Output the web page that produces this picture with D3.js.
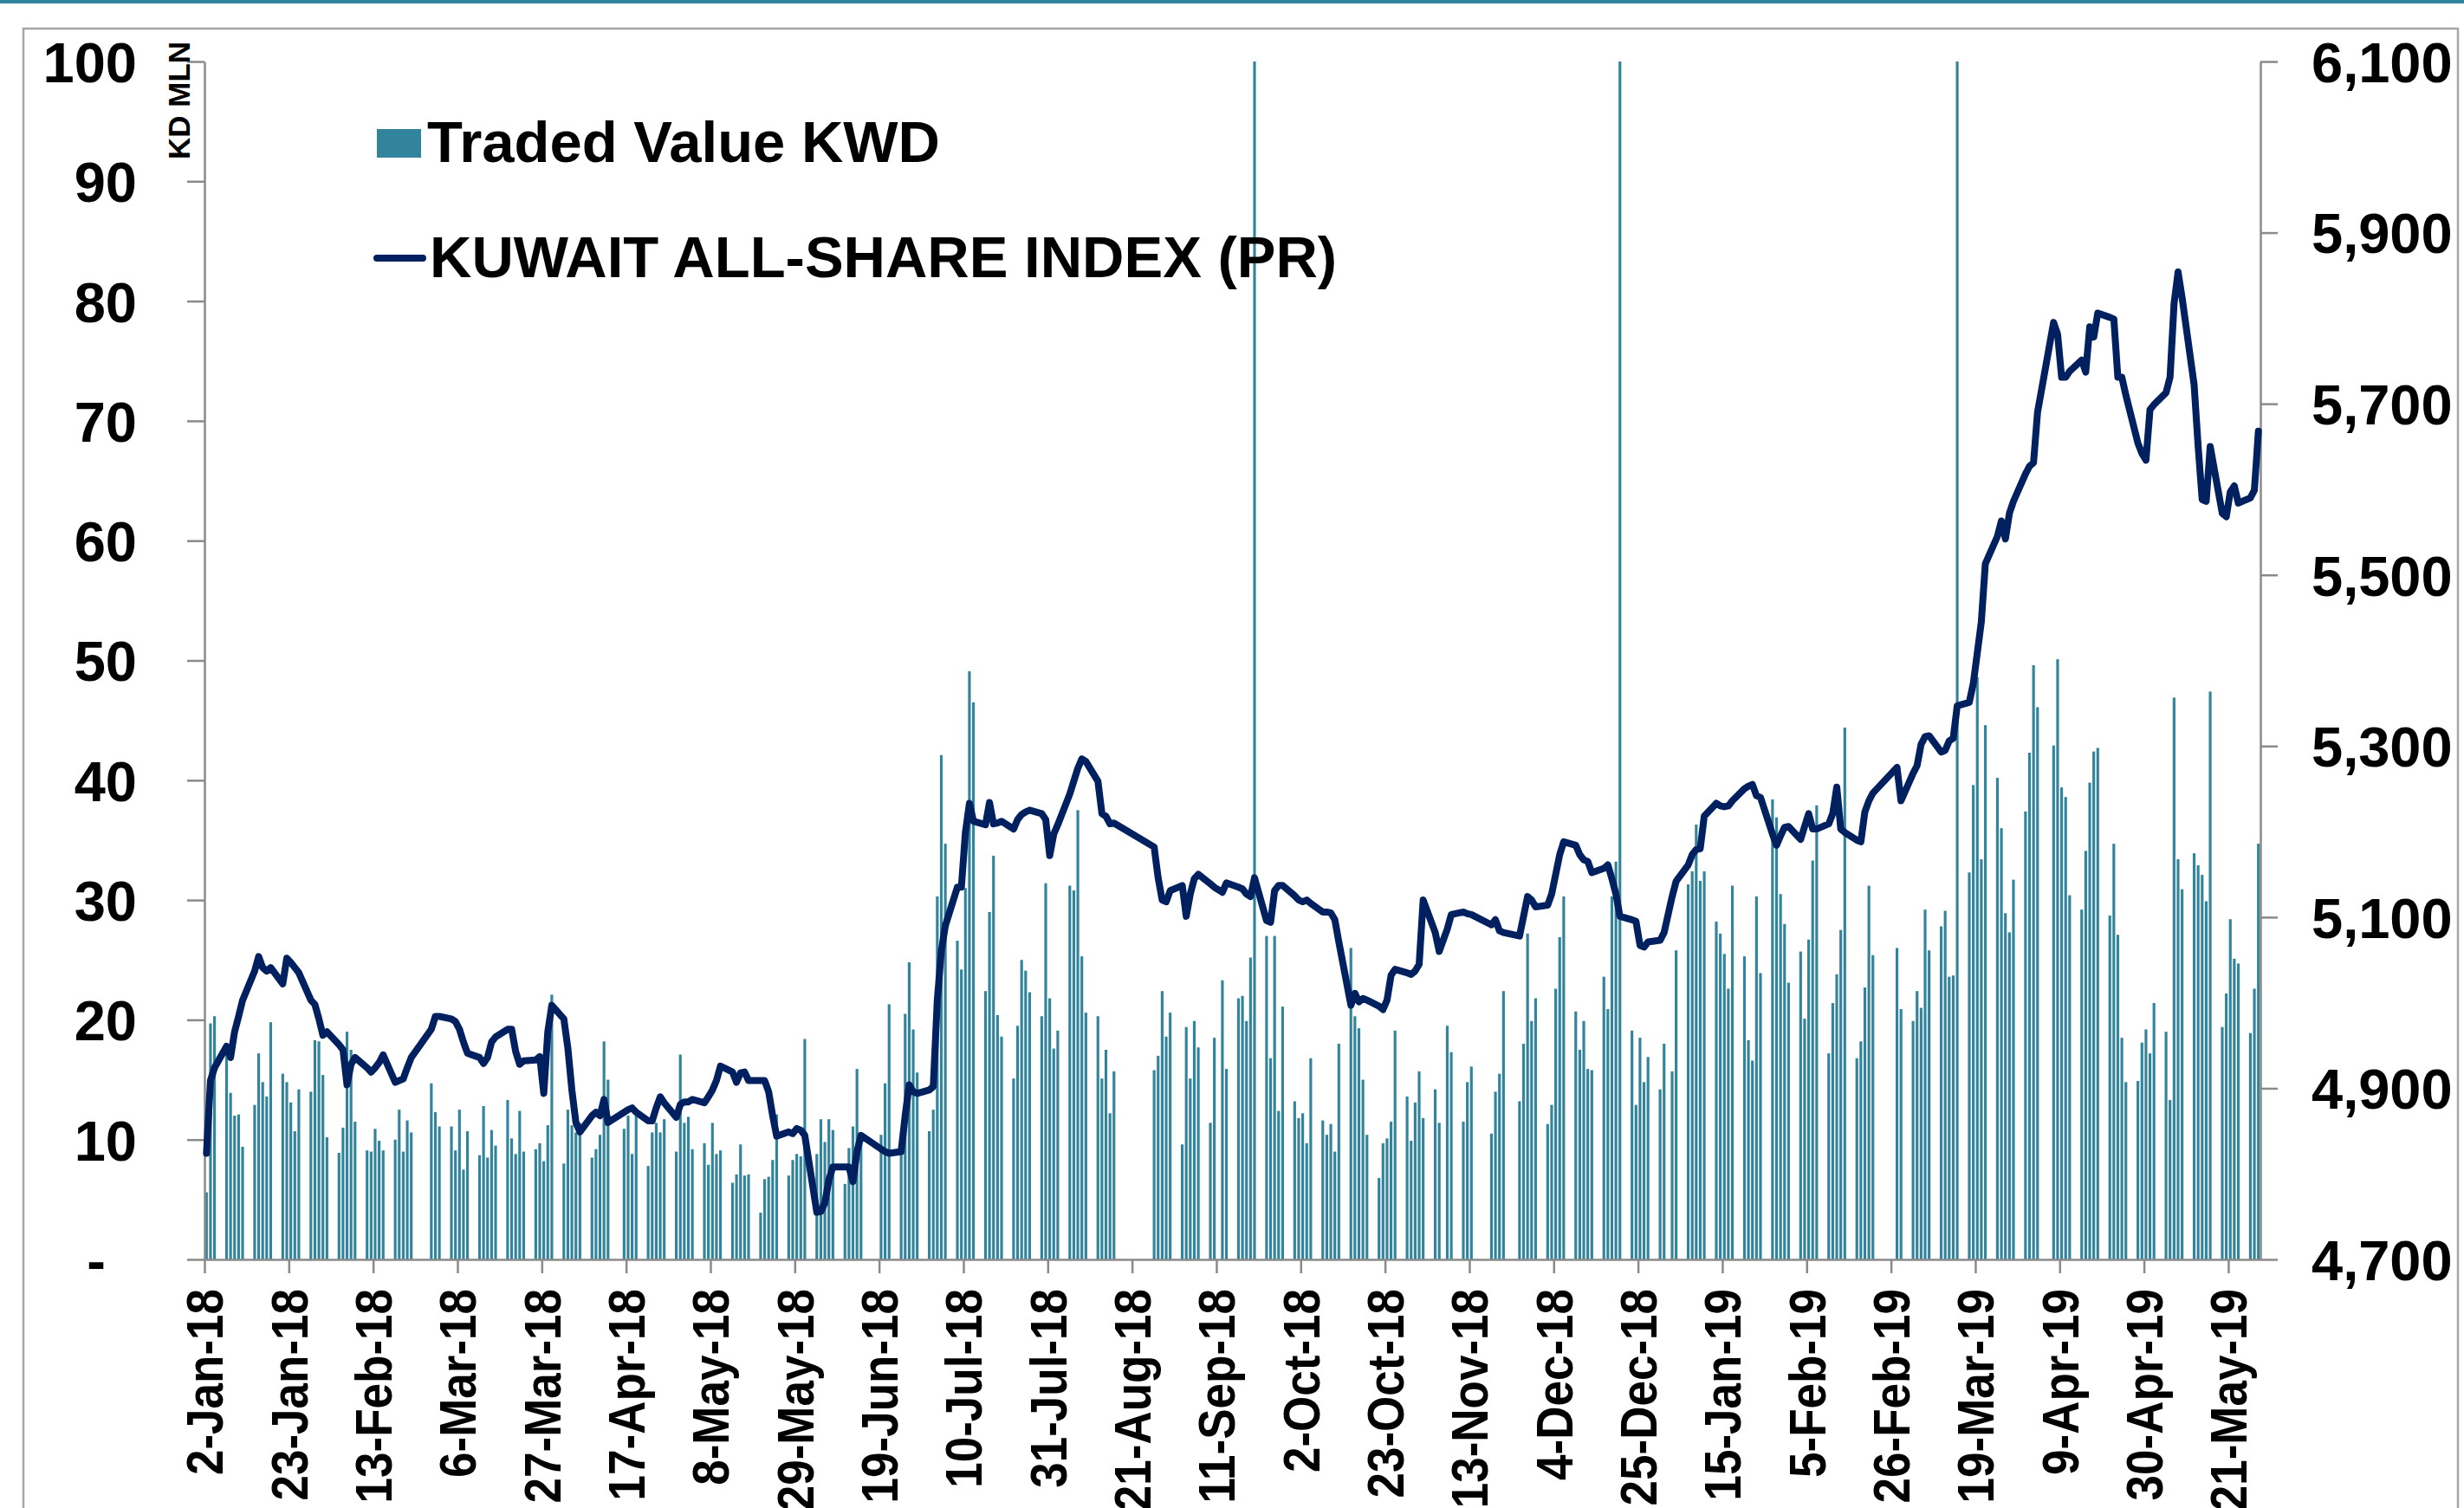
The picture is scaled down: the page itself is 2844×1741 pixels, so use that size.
<!DOCTYPE html>
<html>
<head>
<meta charset="utf-8">
<script src="https://cdn.jsdelivr.net/npm/d3@7"></script>
<style>
html, body { margin: 0; padding: 0; background: #fff; }
svg { display: block; }
text { font-family: "Liberation Sans", Arial, sans-serif; font-weight: bold; fill: #000; }
</style>
</head>
<body>
<div id="chart"></div>
<script>
// trading days (Sun-Thu), one line per week
var tradingDays = [
	"2018-01-02","2018-01-03","2018-01-04",
	"2018-01-07","2018-01-08","2018-01-09","2018-01-10","2018-01-11",
	"2018-01-14","2018-01-15","2018-01-16","2018-01-17","2018-01-18",
	"2018-01-21","2018-01-22","2018-01-23","2018-01-24","2018-01-25",
	"2018-01-28","2018-01-29","2018-01-30","2018-01-31","2018-02-01",
	"2018-02-04","2018-02-05","2018-02-06","2018-02-07","2018-02-08",
	"2018-02-11","2018-02-12","2018-02-13","2018-02-14","2018-02-15",
	"2018-02-18","2018-02-19","2018-02-20","2018-02-21","2018-02-22",
	"2018-02-27","2018-02-28","2018-03-01",
	"2018-03-04","2018-03-05","2018-03-06","2018-03-07","2018-03-08",
	"2018-03-11","2018-03-12","2018-03-13","2018-03-14","2018-03-15",
	"2018-03-18","2018-03-19","2018-03-20","2018-03-21","2018-03-22",
	"2018-03-25","2018-03-26","2018-03-27","2018-03-28","2018-03-29",
	"2018-04-01","2018-04-02","2018-04-03","2018-04-04","2018-04-05",
	"2018-04-08","2018-04-09","2018-04-10","2018-04-11","2018-04-12",
	"2018-04-16","2018-04-17","2018-04-18","2018-04-19",
	"2018-04-22","2018-04-23","2018-04-24","2018-04-25","2018-04-26",
	"2018-04-29","2018-04-30","2018-05-01","2018-05-02","2018-05-03",
	"2018-05-06","2018-05-07","2018-05-08","2018-05-09","2018-05-10",
	"2018-05-13","2018-05-14","2018-05-15","2018-05-16","2018-05-17",
	"2018-05-20","2018-05-21","2018-05-22","2018-05-23","2018-05-24",
	"2018-05-27","2018-05-28","2018-05-29","2018-05-30","2018-05-31",
	"2018-06-03","2018-06-04","2018-06-05","2018-06-06","2018-06-07",
	"2018-06-10","2018-06-11","2018-06-12","2018-06-13","2018-06-14",
	"2018-06-19","2018-06-20","2018-06-21",
	"2018-06-24","2018-06-25","2018-06-26","2018-06-27","2018-06-28",
	"2018-07-01","2018-07-02","2018-07-03","2018-07-04","2018-07-05",
	"2018-07-08","2018-07-09","2018-07-10","2018-07-11","2018-07-12",
	"2018-07-15","2018-07-16","2018-07-17","2018-07-18","2018-07-19",
	"2018-07-22","2018-07-23","2018-07-24","2018-07-25","2018-07-26",
	"2018-07-29","2018-07-30","2018-07-31","2018-08-01","2018-08-02",
	"2018-08-05","2018-08-06","2018-08-07","2018-08-08","2018-08-09",
	"2018-08-12","2018-08-13","2018-08-14","2018-08-15","2018-08-16",
	"2018-08-26","2018-08-27","2018-08-28","2018-08-29","2018-08-30",
	"2018-09-02","2018-09-03","2018-09-04","2018-09-05","2018-09-06",
	"2018-09-09","2018-09-10","2018-09-12","2018-09-13",
	"2018-09-16","2018-09-17","2018-09-18","2018-09-19","2018-09-20",
	"2018-09-23","2018-09-24","2018-09-25","2018-09-26","2018-09-27",
	"2018-09-30","2018-10-01","2018-10-02","2018-10-03","2018-10-04",
	"2018-10-07","2018-10-08","2018-10-09","2018-10-10","2018-10-11",
	"2018-10-14","2018-10-15","2018-10-16","2018-10-17","2018-10-18",
	"2018-10-21","2018-10-22","2018-10-23","2018-10-24","2018-10-25",
	"2018-10-28","2018-10-29","2018-10-30","2018-10-31","2018-11-01",
	"2018-11-04","2018-11-05","2018-11-07","2018-11-08",
	"2018-11-11","2018-11-12","2018-11-13",
	"2018-11-18","2018-11-19","2018-11-20","2018-11-21",
	"2018-11-25","2018-11-26","2018-11-27","2018-11-28","2018-11-29",
	"2018-12-02","2018-12-03","2018-12-04","2018-12-05","2018-12-06",
	"2018-12-09","2018-12-10","2018-12-11","2018-12-12","2018-12-13",
	"2018-12-16","2018-12-17","2018-12-18","2018-12-19","2018-12-20",
	"2018-12-23","2018-12-24","2018-12-25","2018-12-26","2018-12-27",
	"2018-12-30","2018-12-31","2019-01-02","2019-01-03",
	"2019-01-06","2019-01-07","2019-01-08","2019-01-09","2019-01-10",
	"2019-01-13","2019-01-14","2019-01-15","2019-01-16","2019-01-17",
	"2019-01-20","2019-01-21","2019-01-22","2019-01-23","2019-01-24",
	"2019-01-27","2019-01-28","2019-01-29","2019-01-30","2019-01-31",
	"2019-02-03","2019-02-04","2019-02-05","2019-02-06","2019-02-07",
	"2019-02-10","2019-02-11","2019-02-12","2019-02-13","2019-02-14",
	"2019-02-17","2019-02-18","2019-02-19","2019-02-20","2019-02-21",
	"2019-02-27","2019-02-28",
	"2019-03-03","2019-03-04","2019-03-05","2019-03-06","2019-03-07",
	"2019-03-10","2019-03-11","2019-03-12","2019-03-13","2019-03-14",
	"2019-03-17","2019-03-18","2019-03-19","2019-03-20","2019-03-21",
	"2019-03-24","2019-03-25","2019-03-26","2019-03-27","2019-03-28",
	"2019-03-31","2019-04-01","2019-04-02","2019-04-03",
	"2019-04-07","2019-04-08","2019-04-09","2019-04-10","2019-04-11",
	"2019-04-14","2019-04-15","2019-04-16","2019-04-17","2019-04-18",
	"2019-04-21","2019-04-22","2019-04-23","2019-04-24","2019-04-25",
	"2019-04-28","2019-04-29","2019-04-30","2019-05-01","2019-05-02",
	"2019-05-05","2019-05-06","2019-05-07","2019-05-08","2019-05-09",
	"2019-05-12","2019-05-13","2019-05-14","2019-05-15","2019-05-16",
	"2019-05-19","2019-05-20","2019-05-21","2019-05-22","2019-05-23",
	"2019-05-26","2019-05-27","2019-05-28"
];

// traded value, KD mln (the three spikes run past the 100 ceiling)
var tradedValue = [
	5.6, 19.7, 20.3,
	17.3, 13.9, 12.0, 12.1, 9.4,
	12.9, 17.2, 14.8, 13.6, 19.8,
	15.5, 14.8, 13.1, 10.7, 14.2,
	14.0, 18.3, 18.2, 15.4, 10.2,
	8.9, 11.0, 19.0, 17.5, 11.5,
	9.1, 9.0, 10.9, 9.9, 9.1,
	10.0, 12.5, 9.0, 11.6, 10.6,
	14.7, 12.3, 11.1,
	11.1, 9.1, 12.5, 7.5, 10.7,
	8.7, 12.8, 8.5, 10.8, 9.5,
	13.3, 10.1, 8.8, 12.4, 9.0,
	9.2, 9.7, 8.2, 11.2, 22.1,
	8.0, 12.5, 11.2, 10.6, 11.4,
	8.5, 9.2, 10.4, 18.2, 15.0,
	10.9, 12.0, 8.8, 12.0,
	7.8, 10.6, 11.4, 10.6, 11.7,
	9.0, 17.1, 11.4, 11.9, 9.2,
	9.7, 7.9, 11.4, 8.8, 9.1,
	6.4, 7.1, 9.6, 7.0, 7.1,
	3.9, 6.7, 6.9, 8.3, 12.1,
	7.0, 8.3, 8.8, 8.6, 18.4,
	8.8, 11.7, 9.8, 11.7, 10.8,
	6.3, 9.3, 11.1, 15.9, 10.4,
	10.4, 14.7, 21.3,
	10.0, 20.5, 24.8, 19.2, 15.6,
	10.7, 12.5, 30.3, 42.1, 34.7,
	26.6, 24.2, 31.0, 49.1, 46.5,
	22.4, 29.0, 33.7, 20.4, 18.6,
	15.1, 19.5, 25.0, 24.1, 22.3,
	20.3, 31.4, 21.8, 17.6, 19.1,
	31.2, 30.8, 37.5, 25.3, 20.6,
	20.3, 15.1, 17.5, 12.2, 15.7,
	15.8, 17.0, 22.4, 18.6, 20.6,
	9.6, 19.4, 15.1, 19.9, 17.7,
	11.4, 18.5, 23.3, 15.9,
	21.8, 22.0, 19.9, 25.2, 125,
	27.0, 16.8, 27.0, 12.4, 21.1,
	13.2, 11.8, 12.2, 9.7, 16.8,
	11.6, 10.4, 11.3, 9.0, 18.0,
	26.0, 20.3, 19.3, 15.0, 10.4,
	6.8, 9.7, 10.1, 11.5, 19.1,
	13.6, 9.9, 13.1, 15.7, 11.8,
	14.2, 11.4, 19.5, 17.3,
	11.5, 14.8, 16.1,
	10.5, 14.0, 15.5, 22.4,
	13.2, 18.0, 27.2, 19.9, 21.8,
	11.3, 12.9, 22.6, 26.9, 30.3,
	20.7, 17.5, 19.9, 15.9, 15.8,
	23.6, 20.9, 30.3, 33.2, 130,
	19.1, 12.9, 18.5, 14.8, 16.9,
	14.2, 18.0, 15.7, 25.8,
	31.3, 32.4, 36.3, 31.6, 32.4,
	28.2, 27.2, 25.5, 22.6, 31.2,
	25.3, 18.3, 16.6, 30.3, 23.9,
	38.4, 36.9, 30.5, 28.0, 23.1,
	25.7, 20.1, 26.7, 33.3, 37.9,
	17.2, 21.4, 23.8, 27.5, 44.4,
	16.8, 18.2, 22.7, 31.2, 25.4,
	26.0, 20.9,
	19.9, 22.4, 21.0, 29.2, 25.8,
	27.8, 29.1, 23.6, 23.7, 140,
	32.3, 39.6, 48.6, 33.4, 44.6,
	40.2, 36.0, 28.9, 27.3, 31.7,
	37.4, 42.3, 49.6, 46.1,
	42.9, 50.1, 39.4, 38.6, 30.4,
	29.2, 34.1, 39.8, 42.4, 42.7,
	28.7, 34.7, 27.1, 18.5, 14.8,
	14.9, 18.1, 19.2, 17.2, 21.4,
	19.0, 13.3, 46.9, 33.4, 30.9,
	33.9, 32.9, 32.1, 29.9, 47.4,
	19.4, 22.2, 28.4, 25.1, 24.7,
	18.9, 22.6, 34.7
];

// Kuwait All-Share Index (PR), closing level
var indexValue = [
	4824, 4909, 4924,
	4949, 4936, 4966, 4984, 5003,
	5037, 5054, 5041, 5037, 5041,
	5022, 5052, 5047, 5041, 5035,
	5003, 4998, 4981, 4962, 4966,
	4951, 4945, 4904, 4928, 4936,
	4924, 4919, 4924, 4930, 4939,
	4907, 4909, 4911, 4924, 4936,
	4969, 4984, 4984,
	4981, 4978, 4969, 4954, 4941,
	4936, 4929, 4936, 4954, 4960,
	4969, 4969, 4943, 4928, 4932,
	4933, 4937, 4894, 4966, 4997,
	4981, 4947, 4898, 4860, 4849,
	4868, 4872, 4868, 4887, 4860,
	4872, 4875, 4877, 4872,
	4862, 4862, 4877, 4890, 4883,
	4866, 4881, 4884, 4884, 4887,
	4883, 4890, 4898, 4909, 4926,
	4919, 4907, 4918, 4919, 4909,
	4909, 4909, 4896, 4868, 4844,
	4849, 4847, 4853, 4851, 4845,
	4755, 4756, 4766, 4793, 4808,
	4808, 4808, 4791, 4826, 4845,
	4829, 4826, 4824,
	4826, 4868, 4904, 4896, 4894,
	4898, 4902, 5003, 5060, 5090,
	5135, 5135, 5199, 5233, 5212,
	5208, 5234, 5209, 5210, 5212,
	5203, 5214, 5220, 5223, 5225,
	5221, 5214, 5172, 5197, 5208,
	5244, 5259, 5274, 5285, 5282,
	5259, 5221, 5218, 5209, 5210,
	5182, 5146, 5120, 5118, 5131,
	5137, 5101, 5127, 5145, 5150,
	5139, 5135, 5129, 5140,
	5135, 5133, 5127, 5124, 5146,
	5096, 5094, 5131, 5137, 5137,
	5125, 5120, 5118, 5120, 5116,
	5106, 5106, 5105, 5097, 5071,
	4997, 5011, 5001, 5005, 5003,
	4996, 4992, 5003, 5032, 5039,
	5035, 5033, 5037, 5045, 5120,
	5082, 5060, 5086, 5103,
	5106, 5104, 5103,
	5091, 5097, 5084, 5082,
	5078, 5101, 5124, 5120, 5112,
	5114, 5127, 5150, 5173, 5188,
	5184, 5173, 5167, 5165, 5152,
	5157, 5161, 5145, 5127, 5101,
	5097, 5095, 5067, 5065, 5071,
	5073, 5082, 5124, 5142,
	5161, 5173, 5179, 5180, 5218,
	5233, 5230, 5229, 5230, 5236,
	5250, 5253, 5255, 5242, 5240,
	5197, 5184, 5195, 5205, 5206,
	5191, 5206, 5221, 5203, 5203,
	5209, 5221, 5252, 5203, 5199,
	5190, 5188, 5223, 5236, 5245,
	5275, 5236,
	5268, 5277, 5302, 5311, 5312,
	5293, 5295, 5306, 5309, 5347,
	5351, 5373, 5409, 5445, 5513,
	5545, 5563, 5542, 5572, 5586,
	5618, 5627, 5631, 5690,
	5795, 5781, 5731, 5731, 5738,
	5751, 5737, 5790, 5778, 5806,
	5801, 5799, 5731, 5731, 5710,
	5654, 5642, 5634, 5693, 5699,
	5713, 5731, 5817, 5854, 5824,
	5722, 5650, 5588, 5586, 5650,
	5572, 5568, 5597, 5604, 5584,
	5590, 5599, 5668
];

var dateTickLabels = ["2-Jan-18", "23-Jan-18", "13-Feb-18", "6-Mar-18", "27-Mar-18", "17-Apr-18",
	"8-May-18", "29-May-18", "19-Jun-18", "10-Jul-18", "31-Jul-18", "21-Aug-18", "11-Sep-18",
	"2-Oct-18", "23-Oct-18", "13-Nov-18", "4-Dec-18", "25-Dec-18", "15-Jan-19", "5-Feb-19",
	"26-Feb-19", "19-Mar-19", "9-Apr-19", "30-Apr-19", "21-May-19"];
var valueTicks = [0, 10, 20, 30, 40, 50, 60, 70, 80, 90, 100];
var indexTicks = [4700, 4900, 5100, 5300, 5500, 5700, 5900, 6100];
var seriesNames = ["Traded Value KWD", "KUWAIT ALL-SHARE INDEX (PR)"];
var valueAxisTitle = "KD MLN";

var colors = {
	bar: '#31849b',
	line: '#002060',
	axis: '#8a8a8a',
	frame: '#a6a6a6'
};

var width = 2844;
var height = 1741;
var plot = { left: 236, right: 2609, top: 71, bottom: 1454 };

if (tradingDays.length !== tradedValue.length || tradingDays.length !== indexValue.length) {
	console.error('length mismatch', tradingDays.length, tradedValue.length, indexValue.length);
}

var parseDay = d3.utcParse('%Y-%m-%d');
var parseTick = d3.utcParse('%d-%b-%y');

var data = tradingDays.map(function(d, i) {
	return { date: parseDay(d), value: tradedValue[i], index: indexValue[i] };
});

var svg = d3.select('#chart')
	.append('svg')
	.attr('width', width)
	.attr('height', height);

// band along the top edge and the outer frame
svg.append('rect')
	.attr('x', 0).attr('y', 0)
	.attr('width', width).attr('height', 4)
	.attr('fill', colors.bar);

svg.append('rect')
	.attr('x', 27).attr('y', 33)
	.attr('width', 2810).attr('height', 1800)
	.attr('fill', 'none')
	.attr('stroke', colors.frame)
	.attr('stroke-width', 2.5);

var x = d3.scaleUtc()
	.domain([data[0].date, d3.utcDay.offset(data[data.length - 1].date, 1)])
	.range([plot.left, plot.right]);

var slot = x(d3.utcDay.offset(data[0].date, 1)) - x(data[0].date);
var barWidth = slot * 0.68;

var yValue = d3.scaleLinear()
	.domain([0, 100])
	.range([plot.bottom, plot.top]);

var yIndex = d3.scaleLinear()
	.domain([4700, 6100])
	.range([plot.bottom, plot.top]);

svg.append('defs').append('clipPath')
	.attr('id', 'plot-clip')
	.append('rect')
	.attr('x', plot.left).attr('y', plot.top)
	.attr('width', plot.right - plot.left)
	.attr('height', plot.bottom - plot.top);

// bars
svg.append('g')
	.attr('clip-path', 'url(#plot-clip)')
	.selectAll('rect')
	.data(data)
	.enter()
	.append('rect')
	.attr('x', function(d) { return x(d.date) + (slot - barWidth) / 2; })
	.attr('width', barWidth)
	.attr('y', function(d) { return yValue(Math.min(d.value, 100)); })
	.attr('height', function(d) { return plot.bottom - yValue(Math.min(d.value, 100)); })
	.attr('fill', colors.bar);

// axes
function styleAxis(g) {
	g.attr('font-family', null).attr('font-size', null);
	g.selectAll('.domain').attr('stroke', colors.axis).attr('stroke-width', 2.5);
	g.selectAll('.tick line').attr('stroke', colors.axis).attr('stroke-width', 2.5);
}

var leftAxis = svg.append('g')
	.attr('transform', 'translate(' + plot.left + ',0)')
	.call(d3.axisLeft(yValue)
		.tickValues(valueTicks)
		.tickSize(20)
		.tickSizeOuter(0)
		.tickPadding(58)
		.tickFormat(function(d) { return d === 0 ? '-' : d; }))
	.call(styleAxis);
leftAxis.selectAll('text')
	.style('font-size', '65px')
	.attr('dy', '0.36em')
	.filter(function(d) { return d === 0; })
	.attr('x', -114);

var rightAxis = svg.append('g')
	.attr('transform', 'translate(' + plot.right + ',0)')
	.call(d3.axisRight(yIndex)
		.tickValues(indexTicks)
		.tickSize(20)
		.tickSizeOuter(0)
		.tickPadding(39)
		.tickFormat(d3.format(',')))
	.call(styleAxis);
rightAxis.selectAll('text')
	.style('font-size', '65px')
	.attr('dy', '0.36em');

var bottomAxis = svg.append('g')
	.attr('transform', 'translate(0,' + plot.bottom + ')')
	.call(d3.axisBottom(x)
		.tickValues(dateTickLabels.map(function(t) { return parseTick(t); }))
		.tickSize(16)
		.tickSizeOuter(0)
		.tickFormat(function(d, i) { return dateTickLabels[i]; }))
	.call(styleAxis);
bottomAxis.selectAll('text')
	.style('font-size', '53px')
	.attr('text-anchor', 'end')
	.attr('x', -34)
	.attr('y', 0)
	.attr('dy', '0.36em')
	.attr('transform', 'rotate(-90) scale(1,1.1)');

// index line
var line = d3.line()
	.x(function(d) { return x(d.date) + slot / 2; })
	.y(function(d) { return yIndex(d.index); });

svg.append('path')
	.datum(data)
	.attr('d', line)
	.attr('fill', 'none')
	.attr('stroke', colors.line)
	.attr('stroke-width', 8)
	.attr('stroke-linejoin', 'round')
	.attr('stroke-linecap', 'round');

// axis title
svg.append('text')
	.attr('transform', 'translate(219,116) rotate(-90)')
	.attr('text-anchor', 'middle')
	.style('font-size', '35px')
	.text(valueAxisTitle);

// legend
var legend = svg.append('g');

legend.append('rect')
	.attr('x', 435).attr('y', 149)
	.attr('width', 51).attr('height', 33)
	.attr('fill', colors.bar);

legend.append('text')
	.attr('x', 493).attr('y', 187)
	.style('font-size', '67px')
	.text(seriesNames[0]);

legend.append('line')
	.attr('x1', 435).attr('x2', 488)
	.attr('y1', 298).attr('y2', 298)
	.attr('stroke', colors.line)
	.attr('stroke-width', 8)
	.attr('stroke-linecap', 'round');

legend.append('text')
	.attr('x', 496).attr('y', 320)
	.style('font-size', '67px')
	.text(seriesNames[1]);
</script>
</body>
</html>
